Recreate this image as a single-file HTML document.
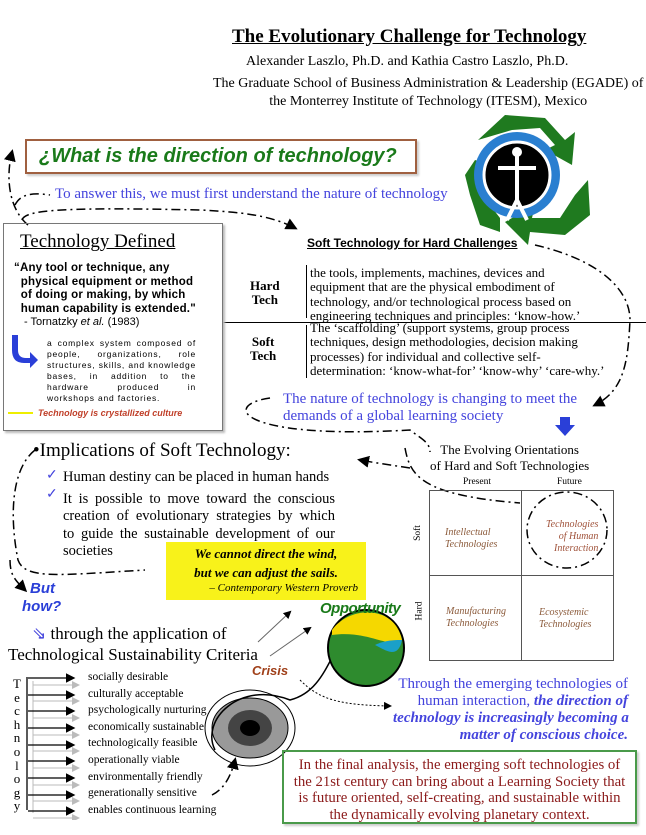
<!DOCTYPE html>
<html><head><meta charset="utf-8"><style>
body{margin:0;width:646px;height:835px;background:#fff;position:relative;overflow:hidden;font-family:"Liberation Serif",serif}
.a{position:absolute;white-space:nowrap}
.s{font-family:"Liberation Sans",sans-serif}
.j{text-align:justify;text-align-last:justify;white-space:normal;height:17.5px;overflow:visible}
</style></head><body>
<svg width="646" height="835" style="position:absolute;left:0;top:0">
<defs><marker id="ar" markerWidth="8" markerHeight="8" refX="6" refY="4" orient="auto"><path d="M0,0L8,4L0,8z" fill="#000"/></marker></defs>
<g fill="none" stroke="#000" stroke-width="1.5" stroke-dasharray="9,4,2,4">
<path d="M28,225 C10,210 5,180 12,152" marker-end="url(#ar)"/>
<path d="M15,205 C20,195 30,192 50,195"/>
<path d="M22,220 C25,210 60,207 200,210 C240,212 270,215 295,228" marker-end="url(#ar)"/>
<path d="M535,245 C600,260 630,290 630,320 C628,360 625,390 595,405" marker-end="url(#ar)"/>
<path d="M270,398 C220,405 240,440 410,430 C420,438 430,442 430,452"/>
<path d="M410,468 C390,465 370,462 360,460" marker-end="url(#ar)"/>
<path d="M405,448 C410,475 420,495 520,503"/>
<ellipse cx="567" cy="530" rx="40" ry="38"/>
<path d="M35,450 C10,470 10,520 18,560 C25,580 60,575 145,570"/>
<path d="M10,560 C10,575 15,580 25,590" marker-end="url(#ar)"/>
<path d="M212,795 C222,790 230,780 235,760" marker-end="url(#ar)"/>
</g>
<path d="M300,680 C320,700 340,705 390,706" fill="none" stroke="#000" stroke-dasharray="2,2" marker-end="url(#ar)"/>
<path d="M258,642 L290,612" stroke="#666" marker-end="url(#ar)"/>
<path d="M270,656 L310,628" stroke="#666" marker-end="url(#ar)"/>
<ellipse cx="250" cy="728" rx="38" ry="30" fill="#999" stroke="#000"/>
<ellipse cx="250" cy="728" rx="22" ry="18" fill="#444"/>
<ellipse cx="250" cy="728" rx="10" ry="8" fill="#000"/>
<path d="M215,750 C200,720 240,680 290,700 C330,690 330,640 360,620" fill="none" stroke="#000" stroke-width="1.5"/>
<ellipse cx="250" cy="728" rx="45" ry="38" fill="none" stroke="#000"/>
<circle cx="366" cy="648" r="38" fill="#2e8b2e" stroke="#000" stroke-width="2"/>
<path d="M332,630 C350,605 395,605 402,640 C390,650 370,630 332,635z" fill="#f5d800"/>
<path d="M402,640 C398,660 385,650 375,645 C385,640 395,640 402,640z" fill="#1aa0c8"/>
<g fill="#1f7a1f">
<path d="M478,140 L505,115 L545,118 L565,140 L575,132 L572,165 L545,150 L555,145 L540,128 L512,130z"/>
<path d="M588,180 L590,215 L565,235 L530,232 L528,245 L505,222 L535,205 L532,218 L560,218 L575,195z"/>
<path d="M470,195 L480,225 L500,232 L500,218 L490,205 L490,175 L500,168 L475,160 L465,175z"/>
</g>
<circle cx="517" cy="175" r="43" fill="#2a7fd0"/>
<circle cx="517" cy="175" r="33" fill="#000" stroke="#fff" stroke-width="3"/>
<path d="M517,150 v50 M498,168 h38 M517,200 l-10,20 M517,200 l10,20" stroke="#fff" stroke-width="4"/>
<circle cx="517" cy="152" r="5" fill="#fff"/>
<rect x="429.5" y="490.5" width="184" height="170" fill="none" stroke="#555"/>
<line x1="521.5" y1="490" x2="521.5" y2="661" stroke="#555"/>
<line x1="429" y1="575.5" x2="614" y2="575.5" stroke="#555"/>
<line x1="223" y1="322.5" x2="646" y2="322.5" stroke="#000"/>
<line x1="306.5" y1="265" x2="306.5" y2="318" stroke="#000"/>
<line x1="306.5" y1="325" x2="306.5" y2="378" stroke="#000"/>
<path d="M18,335 L18,350 Q18,358 26,358 L30,358 L30,352 L38,360 L30,368 L30,363 L24,363 Q12,363 12,350 L12,335z" fill="#2a3fd8"/>
<path d="M560,417 h10 v8 h5 l-10,11 l-10,-11 h5z" fill="#2a3fd8"/>
<line x1="8" y1="413" x2="33" y2="413" stroke="#ee0" stroke-width="2"/>
<line x1="27" y1="677" x2="27" y2="810" stroke="#000" stroke-width="1.3"/>
</svg>
<svg width="100" height="150" style="position:absolute;left:0;top:670">
<defs><marker id="b" markerWidth="8" markerHeight="8" refX="6" refY="4" orient="auto"><path d="M0,0L8,4L0,8z"/></marker>
<marker id="g" markerWidth="8" markerHeight="8" refX="6" refY="4" orient="auto"><path d="M0,0L8,4L0,8z" fill="#bbb"/></marker></defs>
<g stroke="#bbb"><line x1="33" y1="11" x2="33" y2="143"/>
<line x1="33" y1="15" x2="78" y2="15" marker-end="url(#g)"/><line x1="33" y1="31" x2="78" y2="31" marker-end="url(#g)"/><line x1="33" y1="48" x2="78" y2="48" marker-end="url(#g)"/><line x1="33" y1="65" x2="78" y2="65" marker-end="url(#g)"/><line x1="33" y1="81" x2="78" y2="81" marker-end="url(#g)"/><line x1="33" y1="98" x2="78" y2="98" marker-end="url(#g)"/><line x1="33" y1="115" x2="78" y2="115" marker-end="url(#g)"/><line x1="33" y1="131" x2="78" y2="131" marker-end="url(#g)"/><line x1="33" y1="148" x2="78" y2="148" marker-end="url(#g)"/></g>
<g stroke="#000" stroke-width="1.2">
<line x1="28" y1="8" x2="73" y2="8" marker-end="url(#b)"/><line x1="28" y1="25" x2="73" y2="25" marker-end="url(#b)"/><line x1="28" y1="41" x2="73" y2="41" marker-end="url(#b)"/><line x1="28" y1="58" x2="73" y2="58" marker-end="url(#b)"/><line x1="28" y1="75" x2="73" y2="75" marker-end="url(#b)"/><line x1="28" y1="91" x2="73" y2="91" marker-end="url(#b)"/><line x1="28" y1="108" x2="73" y2="108" marker-end="url(#b)"/><line x1="28" y1="125" x2="73" y2="125" marker-end="url(#b)"/><line x1="28" y1="141" x2="73" y2="141" marker-end="url(#b)"/></g>
</svg>

<div class="a" style="left:232px;top:26px;font-size:19px;font-weight:bold;text-decoration:underline">The Evolutionary Challenge for Technology</div>
<div class="a" style="left:246px;top:54px;font-size:14px">Alexander Laszlo, Ph.D. and Kathia Castro Laszlo, Ph.D.</div>
<div class="a" style="left:213px;top:75px;font-size:14px;text-align:center;line-height:18px">The Graduate School of Business Administration &amp; Leadership (EGADE) of<br>the Monterrey Institute of Technology (ITESM), Mexico</div>

<div class="a s" style="left:25px;top:139px;width:376px;height:31px;border:2px solid #a06040;box-shadow:2px 2px 2px #ccc;color:#1a7a1a;font-weight:bold;font-style:italic;font-size:20px;line-height:31px;padding-left:12px">¿What is the direction of technology?</div>
<div class="a" style="left:55px;top:186px;font-size:15px;color:#4444dd">To answer this, we must first understand the nature of technology</div>

<div class="a" style="left:3px;top:223px;width:218px;height:206px;border:1px solid #777;box-shadow:2px 2px 2px #bbb"></div>
<div class="a" style="left:20px;top:231px;font-size:19px;text-decoration:underline">Technology Defined</div>
<div class="a s" style="left:14px;top:262px;font-size:11.5px;font-weight:bold;line-height:13.5px;letter-spacing:0.2px">“Any tool or technique, any<br>&nbsp;&nbsp;physical equipment or method<br>&nbsp;&nbsp;of doing or making, by which<br>&nbsp;&nbsp;human capability is extended."</div>
<div class="a s" style="left:24px;top:316px;font-size:11px">- Tornatzky <i>et al.</i> (1983)</div>
<div class="a s" style="left:47px;top:338px;width:149px;font-size:8.5px;line-height:11px;letter-spacing:0.8px;text-align:justify;white-space:normal">a complex system composed of people, organizations, role structures, skills, and knowledge bases, in addition to the hardware produced in workshops and factories.</div>
<div class="a s" style="left:38px;top:408px;font-size:9px;color:#c0402a;font-weight:bold;font-style:italic">Technology is crystallized culture</div>

<div class="a s" style="left:307px;top:236px;font-size:12px;font-weight:bold;text-decoration:underline">Soft Technology for Hard Challenges</div>
<div class="a" style="left:250px;top:279px;font-size:13px;font-weight:bold;line-height:14px;text-align:center">Hard<br>Tech</div>
<div class="a" style="left:250px;top:335px;font-size:13px;font-weight:bold;line-height:14px;text-align:center">Soft<br>Tech</div>
<div class="a" style="left:310px;top:266px;font-size:13px;line-height:14.3px">the tools, implements, machines, devices and<br>equipment that are the physical embodiment of<br>technology, and/or technological process based on<br>engineering techniques and principles: ‘know-how.’</div>
<div class="a" style="left:310px;top:321px;font-size:13px;line-height:14.3px">The ‘scaffolding’ (support systems, group process<br>techniques, design methodologies, decision making<br>processes) for individual and collective self-<br>determination: ‘know-what-for’ ‘know-why’ ‘care-why.’</div>
<div class="a" style="left:283px;top:391px;font-size:15px;color:#4444dd;line-height:17px">The nature of technology is changing to meet the<br>demands of a global learning society</div>

<div class="a" style="left:430px;top:442px;font-size:13px;line-height:16px;text-align:center">The Evolving Orientations<br>of Hard and Soft Technologies</div>
<div class="a" style="left:463px;top:477px;font-size:9.5px">Present</div>
<div class="a" style="left:557px;top:477px;font-size:9.5px">Future</div>
<div class="a" style="left:410px;top:528px;font-size:9.5px;transform:rotate(-90deg)">Soft</div>
<div class="a" style="left:410px;top:606px;font-size:9.5px;transform:rotate(-90deg)">Hard</div>
<div class="a" style="left:445px;top:527px;font-size:10px;font-style:italic;color:#8b5a3a;line-height:12px">Intellectual<br>Technologies</div>
<div class="a" style="left:546px;top:519px;font-size:10px;font-style:italic;color:#a0523a;line-height:12px;text-align:right">Technologies<br>of Human<br>Interaction</div>
<div class="a" style="left:446px;top:606px;font-size:10px;font-style:italic;color:#8b5a3a;line-height:12px">Manufacturing<br>Technologies</div>
<div class="a" style="left:539px;top:607px;font-size:10px;font-style:italic;color:#8b5a3a;line-height:12px">Ecosystemic<br>Technologies</div>

<div class="a" style="left:33px;top:440px;font-size:19px">•Implications of Soft Technology:</div>
<div class="a" style="left:46px;top:467px;font-size:14px;color:#4444dd">✓</div>
<div class="a" style="left:46px;top:486px;font-size:14px;color:#4444dd">✓</div>
<div class="a" style="left:63px;top:469px;width:272px;font-size:14.5px;line-height:17.5px;white-space:normal">
<div style="white-space:nowrap">Human destiny can be placed in human hands</div>
<div class="j" style="margin-top:4px">It is possible to move toward the conscious</div>
<div class="j">creation of evolutionary strategies by which</div>
<div class="j">to guide the sustainable development of our</div>
<div>societies</div></div>
<div class="a" style="left:166px;top:542px;width:200px;height:56px;background:#f8f21a;text-align:center;font-size:13px;font-weight:bold;font-style:italic;line-height:19px;padding-top:2px">We cannot direct the wind,<br>but we can adjust the sails.<br><span style="font-weight:normal;font-size:11px;line-height:12px;display:block;text-align:right;padding-right:8px">– Contemporary Western Proverb</span></div>
<div class="a s" style="left:30px;top:580px;font-size:15px;font-weight:bold;font-style:italic;color:#2a3fd8;line-height:18px">But<br><span style="margin-left:-8px">how?</span></div>
<div class="a" style="left:32px;top:624px;font-size:17px"><span style="color:#4444dd">⇘</span> through the application of</div>
<div class="a" style="left:8px;top:645px;font-size:17px">Technological Sustainability Criteria</div>
<div class="a" style="left:13px;top:677px;font-size:13px;line-height:13.6px;text-align:center">T<br>e<br>c<br>h<br>n<br>o<br>l<br>o<br>g<br>y</div>
<div class="a" style="left:88px;top:669px;font-size:11.5px;line-height:16.6px">socially desirable<br>culturally acceptable<br>psychologically nurturing<br>economically sustainable<br>technologically feasible<br>operationally viable<br>environmentally friendly<br>generationally sensitive<br>enables continuous learning</div>
<div class="a s" style="left:252px;top:663px;font-size:13px;font-weight:bold;font-style:italic;color:#a0401a">Crisis</div>
<div class="a s" style="left:320px;top:600px;font-size:15px;font-weight:bold;font-style:italic;color:#1a7a1a;letter-spacing:-0.5px">Opportunity</div>
<div class="a" style="left:393px;top:676px;font-size:15px;color:#4444dd;line-height:17px;text-align:right;width:235px">Through the emerging technologies of<br>human interaction, <b><i>the direction of<br>technology is increasingly becoming a<br>matter of conscious choice.</i></b></div>
<div class="a" style="left:282px;top:750px;width:355px;height:74px;border:2px solid #4a9a4a;box-shadow:2px 2px 2px #ccc;color:#8b1a1a;font-size:14.8px;line-height:16.5px;text-align:center;padding-top:5px;box-sizing:border-box">In the final analysis, the emerging soft technologies of<br>the 21st century can bring about a Learning Society that<br>is future oriented, self-creating, and sustainable within<br>the dynamically evolving planetary context.</div>
</body></html>
